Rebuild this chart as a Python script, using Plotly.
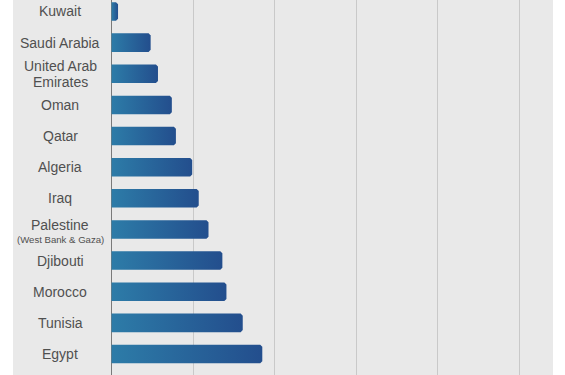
import plotly.graph_objects as go

# Data (bottom to top)
countries = ["Egypt", "Tunisia", "Morocco", "Djibouti", "Palestine", "Iraq",
             "Algeria", "Qatar", "Oman", "United Arab Emirates", "Saudi Arabia", "Kuwait"]
label_lines = [["Egypt"], ["Tunisia"], ["Morocco"], ["Djibouti"],
               ["Palestine", "(West Bank & Gaza)"],
               ["Iraq"], ["Algeria"], ["Qatar"], ["Oman"],
               ["United Arab", "Emirates"], ["Saudi Arabia"], ["Kuwait"]]
values = [18.5, 16.1, 14.1, 13.6, 11.9, 10.7, 9.9, 7.9, 7.4, 5.7, 4.8, 0.8]
grid_ticks = [10, 20, 30, 40, 50]

BAR_H = 0.595
RX, RY = 0.25, 0.065  # corner rounding in data units
PX_PER_CAT = 31.14

fig = go.Figure()

for i, (c, v) in enumerate(zip(countries, values)):
    y0, y1 = i - BAR_H / 2, i + BAR_H / 2
    rx = min(RX, v / 2)
    xs = [0, v - rx, v, v, v - rx, 0, 0]
    ys = [y0, y0, y0 + RY, y1 - RY, y1, y1, y0]
    fig.add_trace(go.Scatter(
        x=xs, y=ys, mode="lines", fill="toself",
        line=dict(width=0, color="rgba(0,0,0,0)"),
        fillgradient=dict(type="horizontal",
                          colorscale=[[0, "#2d7ca8"], [1, "#234e8d"]]),
        hoverinfo="skip", showlegend=False, name=c,
    ))

FONT = "Liberation Sans, Arial, sans-serif"
for i, lines in enumerate(label_lines):
    if len(lines) == 1:
        placements = [(lines[0], 0.0, 14)]
    elif lines[1].startswith("("):
        placements = [(lines[0], -4.0, 14), (lines[1], 9.8, 9.6)]
    else:
        placements = [(lines[0], -8.0, 14), (lines[1], 8.0, 14)]
    for txt, dy_px, size in placements:
        fig.add_annotation(x=-6.3, y=i - dy_px / PX_PER_CAT, xref="x", yref="y",
                           text=txt.replace("&", "&amp;"), borderpad=0,
                           showarrow=False, xanchor="center", yanchor="middle",
                           font=dict(family=FONT, size=size, color="#505050"))

fig.update_layout(
    width=565, height=375,
    margin=dict(l=13, r=12, t=0, b=0),
    paper_bgcolor="white", plot_bgcolor="#e9e9e9",
    xaxis=dict(range=[-12.09, 54.17], tickvals=grid_ticks, showticklabels=False,
               showgrid=True, gridcolor="#c9c9c9", gridwidth=1,
               zeroline=True, zerolinecolor="#7a7a7a", zerolinewidth=1,
               fixedrange=True),
    yaxis=dict(range=[-0.674, 11.369], showgrid=False, zeroline=False,
               showticklabels=False, fixedrange=True),
)

fig.write_html("out.html", config={"displayModeBar": False},
               post_script="document.body.style.margin='0';document.body.style.padding='0';")
